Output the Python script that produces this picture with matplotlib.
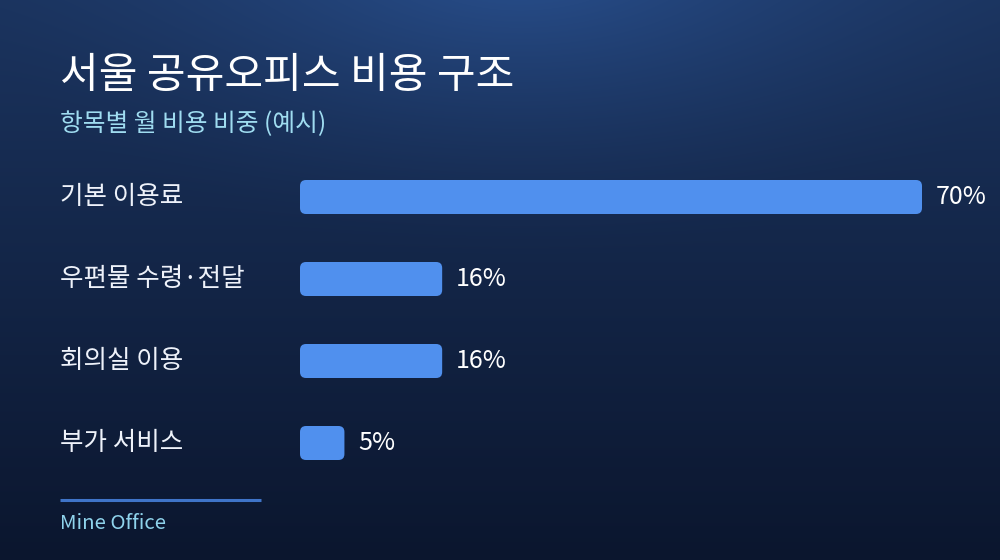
import numpy as np
import matplotlib
matplotlib.use("Agg")
import matplotlib.pyplot as plt
from matplotlib.patches import FancyBboxPatch
from matplotlib.transforms import blended_transform_factory

plt.rcParams['font.family'] = ['Noto Sans CJK KR', 'DejaVu Sans']

# données du graphique
titre = "서울 공유오피스 비용 구조"
sous_titre = "항목별 월 비용 비중 (예시)"
categories = ["기본 이용료", "우편물 수령·전달", "회의실 이용", "부가 서비스"]
valeurs = [70, 16, 16, 5]
etiquettes = ["70%", "16%", "16%", "5%"]
source = "Mine Office"

W, H = 1000, 560
fig = plt.figure(figsize=(W / 100, H / 100), dpi=100)

# fond en dégradé
bg = fig.add_axes([0, 0, 1, 1])
yy, xx = np.mgrid[0:H, 0:W]
t = yy / H
haut = np.array([0x1b, 0x34, 0x5f]) / 255
bas = np.array([0x0b, 0x16, 0x2e]) / 255
img = haut[None, None, :] * (1 - t[..., None]) + bas[None, None, :] * t[..., None]
d = np.sqrt(((xx - 520) / 560) ** 2 + ((yy + 40) / 300) ** 2)
glow = np.clip(1 - d, 0, 1) ** 1.5
img = img + glow[..., None] * (np.array([0x2a, 0x52, 0x92]) / 255 - haut)[None, None, :] * 0.9
bg.imshow(np.clip(img, 0, 1), extent=[0, W, H, 0], aspect='auto')
bg.set_xlim(0, W)
bg.set_ylim(H, 0)
bg.axis('off')

# titre et sous-titre
fig.text(60 / W, 1 - 88 / H, titre, fontsize=30.3, color='white', weight='medium', va='baseline')
fig.text(60 / W, 1 - 131 / H, sous_titre, fontsize=17.8, color='#9fdcf0', va='baseline')

# axe des barres : 0..70 -> x 300..922, catégories centrées à 197, 279, 361, 443
ax = fig.add_axes([300 / W, 1 - 484 / H, 622 / W, 328 / H])
ax.set_xlim(0, 70)
ax.set_ylim(3.5, -0.5)
ax.axis('off')

pos = np.arange(len(categories))
barres = ax.barh(pos, valeurs, height=34 / 82, color='none')
px_x = 622 / 70
px_y = 82
for b in barres:
    x0, y0 = b.get_x(), b.get_y()
    w, h = b.get_width(), b.get_height()
    b.set_visible(False)
    ax.add_patch(FancyBboxPatch((x0, y0), w, h,
                                boxstyle="round,pad=0,rounding_size=%f" % (6 / px_x),
                                mutation_aspect=px_x / px_y,
                                facecolor='#5090ee', edgecolor='none'))

trans = blended_transform_factory(fig.transFigure, ax.transData)
for i, cat in enumerate(categories):
    ax.text(60 / W, pos[i], cat, transform=trans, fontsize=18.4, color='#eef2fa',
            va='center', ha='left')
    ax.annotate(etiquettes[i], (valeurs[i], pos[i]), xytext=(10, 0),
                textcoords='offset points', fontsize=18, color='white',
                va='center', ha='left', annotation_clip=False)

# ligne et source en bas
bg.plot([60, 261], [500, 500], color='#3f74c8', lw=2.2, solid_capstyle='butt')
fig.text(60 / W, 1 - 529 / H, source, fontsize=14.7, color='#8fd3ec', va='baseline')

fig.savefig('out.png', dpi=100)
